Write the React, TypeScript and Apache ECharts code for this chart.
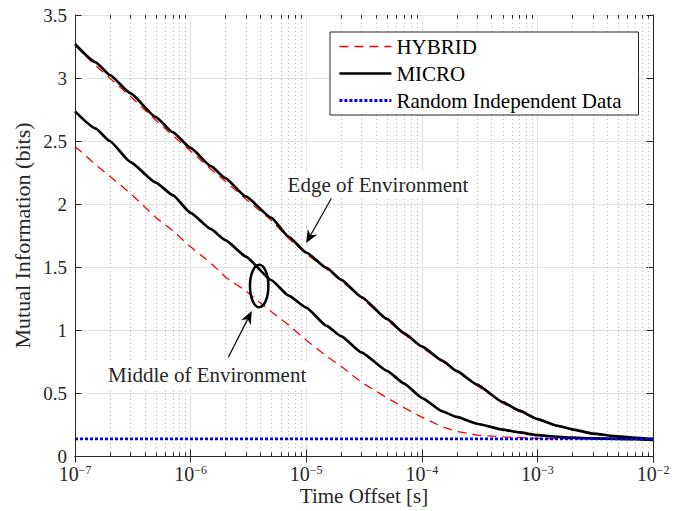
import React, { useEffect, useRef } from "react";
import * as echarts from "echarts";

// Time offsets (seconds) at which the mutual information curves are sampled
const TIME_S = [
  1e-7, 1.5e-7, 2e-7, 3e-7, 5e-7, 7e-7,
  1e-6, 1.5e-6, 2e-6, 3e-6, 5e-6, 7e-6,
  1e-5, 1.5e-5, 2e-5, 3e-5, 5e-5, 7e-5,
  1e-4, 1.5e-4, 2e-4, 3e-4, 5e-4, 7e-4,
  1e-3, 1.5e-3, 2e-3, 3e-3, 5e-3, 7e-3,
  1e-2,
];

// Mutual information (bits)
const HYBRID_EDGE = [
  3.26, 3.1, 3.0, 2.855, 2.665, 2.545,
  2.42, 2.275, 2.18, 2.04, 1.87, 1.73,
  1.605, 1.485, 1.392, 1.255, 1.08, 0.968,
  0.862, 0.75, 0.668, 0.56, 0.42, 0.352,
  0.288, 0.236, 0.208, 0.175, 0.152, 0.142,
  0.132,
];
const HYBRID_MIDDLE = [
  2.457, 2.315, 2.22, 2.087, 1.893, 1.789,
  1.66, 1.53, 1.42, 1.31, 1.144, 1.042,
  0.92, 0.792, 0.713, 0.585, 0.462, 0.384,
  0.308, 0.232, 0.196, 0.166, 0.152, 0.147,
  0.14, 0.138, 0.137, 0.136, 0.134, 0.133,
  0.13,
];
const MICRO_EDGE = [
  3.27, 3.126, 3.024, 2.88, 2.69, 2.57,
  2.445, 2.3, 2.205, 2.06, 1.89, 1.742,
  1.615, 1.493, 1.4, 1.262, 1.088, 0.975,
  0.87, 0.758, 0.675, 0.567, 0.428, 0.36,
  0.293, 0.24, 0.212, 0.178, 0.155, 0.145,
  0.135,
];
const MICRO_MIDDLE = [
  2.735, 2.6, 2.5, 2.335, 2.17, 2.07,
  1.93, 1.8, 1.713, 1.583, 1.395, 1.275,
  1.178, 1.033, 0.951, 0.823, 0.676, 0.576,
  0.462, 0.355, 0.31, 0.256, 0.21, 0.187,
  0.165, 0.152, 0.146, 0.14, 0.136, 0.133,
  0.128,
];
const RANDOM_TIME_S = [1e-7, 1e-2];
const RANDOM_LEVEL = [0.136, 0.136];

// Axis ranges
const X_MIN = 1e-7;
const X_MAX = 1e-2;
const Y_MIN = 0;
const Y_MAX = 3.5;
const Y_STEP = 0.5;
const MINOR_MULTIPLIERS = [2, 3, 4, 5, 6, 7, 8, 9];

const SERIF = "Liberation Serif, Times New Roman, serif";
const INK = "#262626";

const pairs = (xs: number[], ys: number[]) => xs.map((x, i) => [x, ys[i]]);

// minor (2..9 per decade) positions for the dotted grid and the short ticks
const minorPositions: number[][] = [];
for (let e = Math.round(Math.log10(X_MIN)); e < Math.round(Math.log10(X_MAX)); e++) {
  for (const m of MINOR_MULTIPLIERS) minorPositions.push([m * Math.pow(10, e), Y_MIN]);
}

// annotation anchors in data coordinates
const EDGE_TIP = [1e-5, 1.69];
const EDGE_TAIL = [1.66e-5, 2.05];
const EDGE_LABEL = [4.18e-5, 2.15];
const MID_TIP = [3.38e-6, 1.15];
const MID_TAIL = [2.12e-6, 0.784];
const MID_LABEL = [1.39e-6, 0.643];
const RING_CENTER = [3.92e-6, 1.349];

function arrowParts(tail: number[], tip: number[]) {
  const L = 13;
  const W = 11;
  const notch = 4;
  const dx = tip[0] - tail[0];
  const dy = tip[1] - tail[1];
  const len = Math.hypot(dx, dy);
  const ux = dx / len;
  const uy = dy / len;
  const nx = -uy;
  const ny = ux;
  const back = [tip[0] - ux * L, tip[1] - uy * L];
  const mid = [tip[0] - ux * (L - notch), tip[1] - uy * (L - notch)];
  return [
    {
      type: "line",
      z: 100,
      shape: { x1: tail[0], y1: tail[1], x2: mid[0], y2: mid[1] },
      style: { stroke: "#000", lineWidth: 1.2 },
    },
    {
      type: "polygon",
      z: 100,
      shape: {
        points: [
          tip,
          [back[0] + (nx * W) / 2, back[1] + (ny * W) / 2],
          mid,
          [back[0] - (nx * W) / 2, back[1] - (ny * W) / 2],
        ],
      },
      style: { fill: "#000" },
    },
  ];
}

function labelText(pos: number[], text: string) {
  return {
    type: "text",
    z: 100,
    x: pos[0],
    y: pos[1],
    style: {
      text,
      align: "center",
      verticalAlign: "middle",
      fontFamily: SERIF,
      fontSize: 21,
      fill: INK,
      backgroundColor: "#fff",
      padding: [3, 2],
    },
  };
}

// legend swatch: line only, no marker
const hiddenMarker = { color: "transparent", borderWidth: 0, opacity: 0 };

const noMarker = { symbol: "none", showSymbol: false };

export default function App() {
  const ref = useRef<HTMLDivElement>(null);

  useEffect(() => {
    if (!ref.current) return;
    const chart = echarts.init(ref.current, undefined, { renderer: "svg" });

    const xAxisBase = {
      type: "log",
      logBase: 10,
      min: X_MIN,
      max: X_MAX,
      interval: 1,
      axisLine: { show: true, lineStyle: { color: INK, width: 1 } },
      axisTick: { show: true, inside: true, length: 6.5, lineStyle: { color: INK } },
      minorTick: { show: false },
    };
    const yAxisBase = {
      type: "value",
      min: Y_MIN,
      max: Y_MAX,
      interval: Y_STEP,
      axisLine: { show: true, lineStyle: { color: INK, width: 1 } },
      axisTick: { show: true, inside: true, length: 6.5, lineStyle: { color: INK } },
    };

    const option = {
      animation: false,
      backgroundColor: "#fff",
      grid: {
        left: 75,
        right: 33,
        top: 15,
        bottom: 55,
        containLabel: false,
        outerBoundsMode: "none",
      },
      legend: {
        orient: "vertical",
        left: 330,
        top: 32,
        itemWidth: 52,
        itemHeight: 14,
        itemGap: 6,
        padding: [4, 17, 4, 8],
        backgroundColor: "#fff",
        borderColor: INK,
        borderWidth: 1,
        selectedMode: false,
        textStyle: { fontFamily: SERIF, fontSize: 21, color: "#000", lineHeight: 20 },
        data: [
          { name: "HYBRID", itemStyle: hiddenMarker, lineStyle: { width: 1.3 } },
          { name: "MICRO", itemStyle: hiddenMarker, lineStyle: { width: 2.7 } },
          { name: "Random Independent Data", itemStyle: hiddenMarker, lineStyle: { width: 2.8 } },
        ],
      },
      xAxis: [
        {
          ...xAxisBase,
          position: "bottom",
          name: "Time Offset [s]",
          nameLocation: "middle",
          nameGap: 29,
          nameMoveOverlap: false,
          nameTextStyle: { fontFamily: SERIF, fontSize: 21, color: INK, lineHeight: 21 },
          splitLine: { show: true, lineStyle: { color: "#e3e3e3", width: 1 } },
          axisLabel: {
            show: true,
            margin: 8,
            formatter: (v: number) => {
              const exp = Math.round(Math.log10(v));
              return `{b|10}{e|${exp < 0 ? "\u2212" : ""}${Math.abs(exp)}}`;
            },
            rich: {
              b: { fontFamily: SERIF, fontSize: 20, lineHeight: 20, verticalAlign: "bottom", color: INK },
              e: { fontFamily: SERIF, fontSize: 12, lineHeight: 12, verticalAlign: "top", color: INK },
            },
          },
        },
        {
          ...xAxisBase,
          position: "top",
          splitLine: { show: false },
          axisLabel: { show: false },
        },
      ],
      yAxis: [
        {
          ...yAxisBase,
          position: "left",
          name: "Mutual Information (bits)",
          nameLocation: "middle",
          nameGap: 42,
          nameMoveOverlap: false,
          nameTextStyle: { fontFamily: SERIF, fontSize: 22, color: INK, lineHeight: 22 },
          splitLine: { show: true, lineStyle: { color: "#e3e3e3", width: 1 } },
          axisLabel: { show: true, margin: 8, fontFamily: SERIF, fontSize: 19, color: INK },
        },
        {
          ...yAxisBase,
          position: "right",
          splitLine: { show: false },
          axisLabel: { show: false },
        },
      ],
      series: [
        {
          type: "custom",
          name: "minor-grid",
          xAxisIndex: 0,
          yAxisIndex: 0,
          silent: true,
          z: 1,
          data: minorPositions,
          renderItem: (_params: any, api: any) => {
            const t = api.value(0);
            const b = api.coord([t, Y_MIN]);
            const tp = api.coord([t, Y_MAX]);
            const x = Math.round(b[0]) + 0.5;
            return {
              type: "group",
              children: [
                {
                  type: "line",
                  shape: { x1: x, y1: tp[1], x2: x, y2: b[1] },
                  style: { stroke: "#bdbdbd", lineWidth: 1, lineDash: [1, 3] },
                },
                {
                  type: "line",
                  shape: { x1: x, y1: b[1], x2: x, y2: b[1] - 3.5 },
                  style: { stroke: INK, lineWidth: 1 },
                },
                {
                  type: "line",
                  shape: { x1: x, y1: tp[1], x2: x, y2: tp[1] + 3.5 },
                  style: { stroke: INK, lineWidth: 1 },
                },
              ],
            };
          },
        },
        {
          type: "line",
          name: "HYBRID",
          data: pairs(TIME_S, HYBRID_EDGE),
          ...noMarker,
          itemStyle: { color: "#ff0000" },
          lineStyle: { color: "#ff0000", width: 1.3, type: [9, 6] },
          z: 2,
        },
        {
          type: "line",
          name: "HYBRID",
          data: pairs(TIME_S, HYBRID_MIDDLE),
          ...noMarker,
          itemStyle: { color: "#ff0000" },
          lineStyle: { color: "#ff0000", width: 1.3, type: [9, 6] },
          z: 2,
        },
        {
          type: "line",
          name: "MICRO",
          data: pairs(TIME_S, MICRO_EDGE),
          ...noMarker,
          smooth: 0.15,
          smoothMonotone: "x",
          itemStyle: { color: "#000" },
          lineStyle: { color: "#000", width: 2.7 },
          z: 3,
        },
        {
          type: "line",
          name: "MICRO",
          data: pairs(TIME_S, MICRO_MIDDLE),
          ...noMarker,
          smooth: 0.15,
          smoothMonotone: "x",
          itemStyle: { color: "#000" },
          lineStyle: { color: "#000", width: 2.7 },
          z: 3,
        },
        {
          type: "line",
          name: "Random Independent Data",
          data: pairs(RANDOM_TIME_S, RANDOM_LEVEL),
          ...noMarker,
          itemStyle: { color: "#0000ff" },
          lineStyle: { color: "#0000ff", width: 2.8, type: [3, 2] },
          z: 4,
        },
      ],
    };

    chart.setOption(option as any);

    const px = (p: number[]) =>
      chart.convertToPixel({ xAxisIndex: 0, yAxisIndex: 0 } as any, p) as unknown as number[];

    const ring = px(RING_CENTER);
    chart.setOption({
      graphic: [
        ...arrowParts(px(EDGE_TAIL), px(EDGE_TIP)),
        ...arrowParts(px(MID_TAIL), px(MID_TIP)),
        {
          type: "ellipse",
          z: 100,
          shape: { cx: ring[0], cy: ring[1], rx: 9.2, ry: 21.2 },
          style: { fill: "none", stroke: "#000", lineWidth: 2.5 },
        },
        labelText(px(EDGE_LABEL), "Edge of Environment"),
        labelText(px(MID_LABEL), "Middle of Environment"),
      ],
    } as any);

    return () => chart.dispose();
  }, []);

  return (
    <div
      ref={ref}
      style={{ position: "fixed", left: 0, top: 0, width: 686, height: 511, background: "#fff" }}
    />
  );
}
